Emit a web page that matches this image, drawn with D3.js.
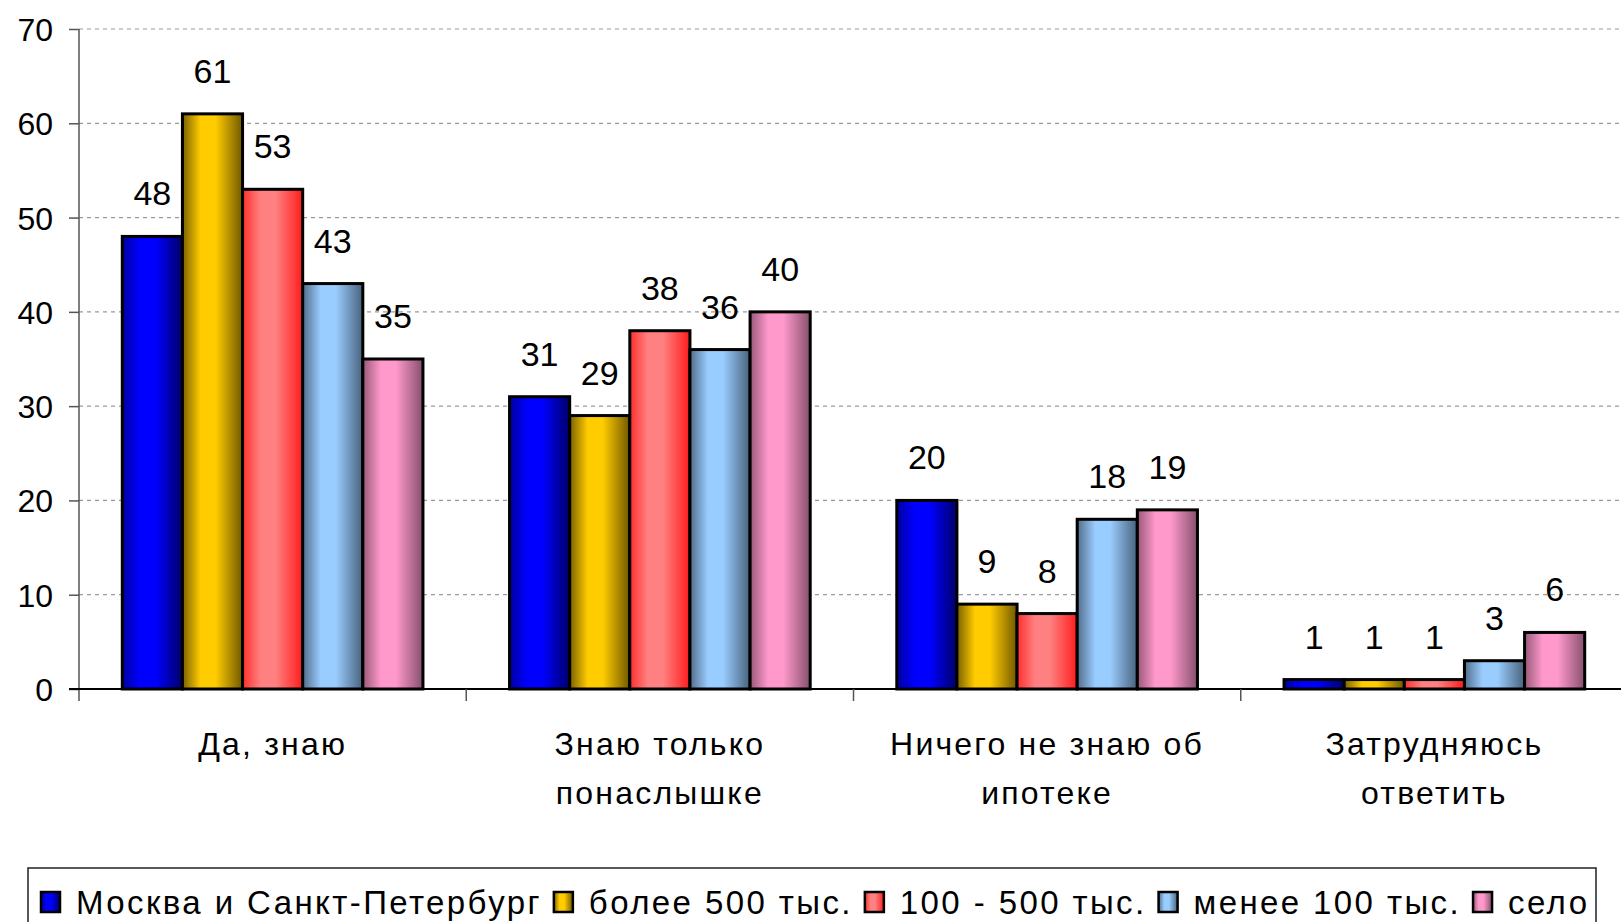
<!DOCTYPE html>
<html>
<head>
<meta charset="utf-8">
<script src="https://cdn.jsdelivr.net/npm/d3@7"></script>
<style>
  body { margin: 0; background: #fff; }
  text { font-family: "Liberation Sans", Arial, sans-serif; fill: #000; }
</style>
</head>
<body>
<div id="barChart"></div>
<script>
// categories and series
var categories = [["Да, знаю"], ["Знаю только", "понаслышке"], ["Ничего не знаю об", "ипотеке"], ["Затрудняюсь", "ответить"]];
var series = ["Москва и Санкт-Петербург", "более 500 тыс.", "100 - 500 тыс.", "менее 100 тыс.", "село"];
var moscowSpb = [48, 31, 20, 1];
var over500 = [61, 29, 9, 1];
var from100to500 = [53, 38, 8, 1];
var under100 = [43, 36, 18, 3];
var village = [35, 40, 19, 6];
var yTicks = [0, 10, 20, 30, 40, 50, 60, 70];

var values = [moscowSpb, over500, from100to500, under100, village];

// gradient colors: edge-left, center, edge-right
var palette = [
    ["#0000a0", "#0000ff", "#000066"],
    ["#7a6000", "#ffcc00", "#705800"],
    ["#ff2e2e", "#ff8080", "#ff1c1c"],
    ["#526d8a", "#99ccff", "#48627c"],
    ["#985878", "#ff99cc", "#86506c"]
];

var W = 1621, H = 922;
var plot = { left: 79, right: 1628, top: 29, bottom: 689 };

var svg = d3.select("#barChart").append("svg")
    .attr("width", W)
    .attr("height", H);

var defs = svg.append("defs");
palette.forEach(function (c, i) {
    var g = defs.append("linearGradient")
        .attr("id", "grad" + i)
        .attr("x1", 0).attr("x2", 1).attr("y1", 0).attr("y2", 0);
    g.append("stop").attr("offset", "0").attr("stop-color", c[0]);
    g.append("stop").attr("offset", "0.3").attr("stop-color", c[1]);
    g.append("stop").attr("offset", "0.55").attr("stop-color", c[1]);
    g.append("stop").attr("offset", "1").attr("stop-color", c[2]);
});

// scales
var x0 = d3.scaleBand()
    .domain(d3.range(categories.length))
    .range([plot.left, plot.right])
    .paddingInner(0.2236)
    .paddingOuter(0.1118);
var x1 = d3.scaleBand()
    .domain(d3.range(series.length))
    .range([0, x0.bandwidth()]);
var y = d3.scaleLinear()
    .domain([0, 70])
    .range([plot.bottom, plot.top]);

// dashed grid
svg.append("g")
    .selectAll("line")
    .data(yTicks.filter(function (t) { return t > 0; }))
    .enter().append("line")
    .attr("x1", plot.left).attr("x2", W)
    .attr("y1", function (d) { return y(d); })
    .attr("y2", function (d) { return y(d); })
    .attr("stroke", "#9a9a9a")
    .attr("stroke-width", 1.2)
    .attr("stroke-dasharray", "4,4");

// y axis
var yAxis = svg.append("g")
    .attr("transform", "translate(" + plot.left + ",0)")
    .call(d3.axisLeft(y).tickValues(yTicks).tickSize(10).tickPadding(16));
yAxis.select(".domain").remove();
yAxis.selectAll(".tick line").attr("stroke", "#555").attr("stroke-width", 1.5);
yAxis.selectAll(".tick text")
    .attr("font-size", 32)
    .attr("font-family", "'Liberation Sans', Arial, sans-serif")
    .attr("fill", "#000")
    .attr("dy", "0.36em");
svg.append("line")
    .attr("x1", plot.left).attr("x2", plot.left)
    .attr("y1", y(70)).attr("y2", plot.bottom + 12)
    .attr("stroke", "#555").attr("stroke-width", 1.5);

// bars
var groups = svg.selectAll(".grp")
    .data(categories)
    .enter().append("g")
    .attr("class", "grp")
    .attr("transform", function (d, i) { return "translate(" + x0(i) + ",0)"; });

groups.selectAll("rect")
    .data(function (d, ci) { return values.map(function (s, si) { return { si: si, v: s[ci] }; }); })
    .enter().append("rect")
    .attr("x", function (d) { return x1(d.si); })
    .attr("width", x1.bandwidth())
    .attr("y", function (d) { return y(d.v); })
    .attr("height", function (d) { return plot.bottom - y(d.v); })
    .attr("fill", function (d) { return "url(#grad" + d.si + ")"; })
    .attr("stroke", "#000")
    .attr("stroke-width", 3);

groups.selectAll(".val")
    .data(function (d, ci) { return values.map(function (s, si) { return { si: si, v: s[ci] }; }); })
    .enter().append("text")
    .attr("class", "val")
    .attr("x", function (d) { return x1(d.si) + x1.bandwidth() / 2; })
    .attr("y", function (d) { return y(d.v) - 31; })
    .attr("text-anchor", "middle")
    .attr("font-size", 34)
    .text(function (d) { return d.v; });

// x axis line and ticks at band boundaries
svg.append("line")
    .attr("x1", 69).attr("x2", W)
    .attr("y1", plot.bottom).attr("y2", plot.bottom)
    .attr("stroke", "#000").attr("stroke-width", 2);
svg.append("g")
    .selectAll("line")
    .data(d3.range(1, categories.length + 1))
    .enter().append("line")
    .attr("x1", function (i) { return plot.left + i * x0.step(); })
    .attr("x2", function (i) { return plot.left + i * x0.step(); })
    .attr("y1", plot.bottom).attr("y2", plot.bottom + 12)
    .attr("stroke", "#555").attr("stroke-width", 1.5);

// category labels
var cat = svg.selectAll(".cat")
    .data(categories)
    .enter().append("text")
    .attr("class", "cat")
    .attr("text-anchor", "middle")
    .attr("font-size", 32)
    .attr("letter-spacing", 2.2);
cat.selectAll("tspan")
    .data(function (d, i) { return d.map(function (s) { return { s: s, i: i }; }); })
    .enter().append("tspan")
    .attr("x", function (d) { return x0(d.i) + x0.bandwidth() / 2; })
    .attr("y", function (d, j) { return 755 + j * 49; })
    .text(function (d) { return d.s; });

// legend
svg.append("rect")
    .attr("x", 28).attr("y", 868)
    .attr("width", 1568).attr("height", 70)
    .attr("fill", "#fff")
    .attr("stroke", "#222").attr("stroke-width", 1.5);

var lx = 41;
series.forEach(function (name, i) {
    svg.append("rect")
        .attr("x", lx).attr("y", 892)
        .attr("width", 19).attr("height", 20)
        .attr("fill", "url(#grad" + i + ")")
        .attr("stroke", "#000").attr("stroke-width", 2.5);
    var t = svg.append("text")
        .attr("x", lx + 35).attr("y", 914)
        .attr("font-size", 33)
        .attr("letter-spacing", 2.4)
        .text(name);
    lx += 35 + t.node().getComputedTextLength() + 12;
});
</script>
</body>
</html>
